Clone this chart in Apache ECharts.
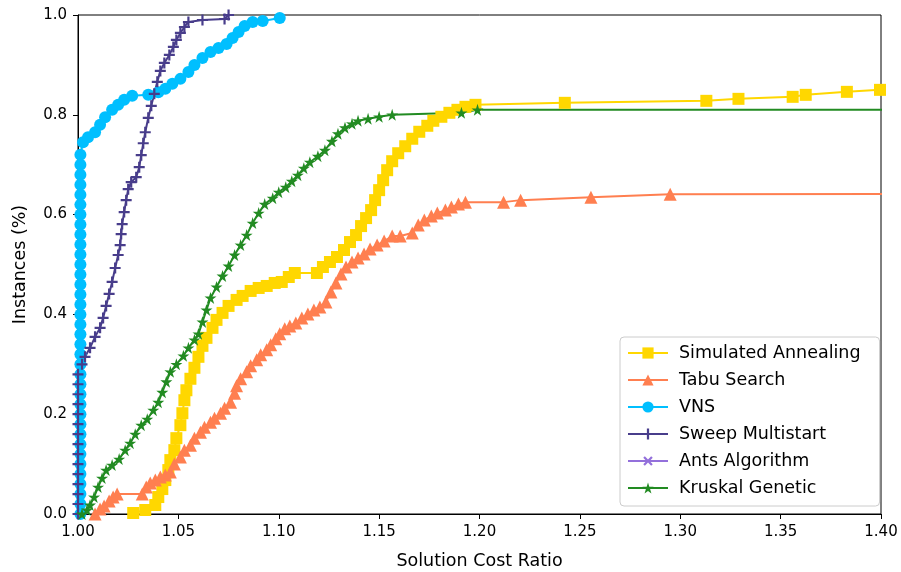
<!DOCTYPE html>
<html>
<head>
<meta charset="utf-8">
<script src="https://cdn.jsdelivr.net/npm/echarts@6/dist/echarts.min.js"></script>
<style>
  html, body { margin: 0; padding: 0; background: #fff; }
  #chart { width: 901px; height: 572px; }
</style>
</head>
<body>
<div id="chart"></div>
<script>
// tick labels
const xTicks = ['1.00', '1.05', '1.10', '1.15', '1.20', '1.25', '1.30', '1.35', '1.40']
const yTicks = ['0.0', '0.2', '0.4', '0.6', '0.8', '1.0']

// [cost ratio, share of instances]
const simulatedAnnealing = [
  [1.0275, 0.002], [1.0335, 0.008], [1.0385, 0.018], [1.040, 0.034], [1.042, 0.05],
  [1.0435, 0.068], [1.045, 0.088], [1.046, 0.108], [1.048, 0.128], [1.049, 0.152],
  [1.051, 0.178], [1.052, 0.202], [1.053, 0.228], [1.054, 0.248], [1.056, 0.271],
  [1.058, 0.293], [1.060, 0.315], [1.062, 0.337], [1.064, 0.353], [1.067, 0.373],
  [1.069, 0.389], [1.072, 0.403], [1.075, 0.417], [1.079, 0.429], [1.082, 0.437],
  [1.086, 0.447], [1.090, 0.453], [1.094, 0.457], [1.098, 0.463], [1.1015, 0.465],
  [1.105, 0.475], [1.108, 0.483], [1.119, 0.483], [1.122, 0.495], [1.1255, 0.505],
  [1.129, 0.515], [1.1325, 0.529], [1.1355, 0.545], [1.1385, 0.559], [1.141, 0.577],
  [1.1435, 0.593], [1.146, 0.609], [1.148, 0.629], [1.150, 0.649], [1.152, 0.669],
  [1.154, 0.689], [1.1565, 0.707], [1.1595, 0.723], [1.163, 0.737], [1.1665, 0.752],
  [1.170, 0.766], [1.174, 0.778], [1.177, 0.788], [1.181, 0.796], [1.185, 0.804],
  [1.189, 0.81], [1.193, 0.816], [1.198, 0.82], [1.2425, 0.824], [1.313, 0.828],
  [1.329, 0.832], [1.356, 0.836], [1.3625, 0.84], [1.383, 0.846], [1.3995, 0.85]
]

const tabuSearch = [
  [1.0085, 0], [1.011, 0.01], [1.013, 0.016], [1.0155, 0.026], [1.0175, 0.034],
  [1.0195, 0.04], [1.032, 0.04], [1.034, 0.054], [1.036, 0.062], [1.0385, 0.068],
  [1.041, 0.074], [1.0435, 0.078], [1.046, 0.084], [1.048, 0.10], [1.051, 0.114],
  [1.053, 0.128], [1.056, 0.138], [1.058, 0.152], [1.061, 0.164], [1.063, 0.174],
  [1.066, 0.184], [1.068, 0.192], [1.071, 0.202], [1.073, 0.212], [1.076, 0.224],
  [1.078, 0.242], [1.079, 0.257], [1.081, 0.271], [1.084, 0.285], [1.086, 0.297],
  [1.089, 0.309], [1.091, 0.319], [1.094, 0.329], [1.096, 0.339], [1.0985, 0.351],
  [1.1005, 0.361], [1.103, 0.371], [1.1055, 0.377], [1.1085, 0.383], [1.1115, 0.393],
  [1.1145, 0.401], [1.1175, 0.409], [1.1205, 0.415], [1.1235, 0.425], [1.126, 0.445],
  [1.1285, 0.463], [1.131, 0.481], [1.1335, 0.495], [1.1365, 0.505], [1.1395, 0.513],
  [1.1425, 0.521], [1.1455, 0.531], [1.149, 0.539], [1.1525, 0.547], [1.1565, 0.557],
  [1.1605, 0.557], [1.1665, 0.563], [1.1695, 0.579], [1.1725, 0.589], [1.176, 0.597],
  [1.179, 0.603], [1.183, 0.609], [1.186, 0.615], [1.1895, 0.621], [1.193, 0.625],
  [1.212, 0.625], [1.2205, 0.629], [1.2555, 0.635], [1.295, 0.641], [1.5, 0.642]
]

// VNS: run of instances solved to the best value, then the tail
const vnsAtOne = [
  0.00, 0.02, 0.04, 0.06, 0.08, 0.10, 0.12, 0.14, 0.16, 0.18, 0.20, 0.22, 0.24,
  0.26, 0.28, 0.30, 0.32, 0.34, 0.36, 0.38, 0.40, 0.42, 0.44, 0.46, 0.48, 0.50,
  0.52, 0.54, 0.56, 0.58, 0.60, 0.62, 0.64, 0.66, 0.68, 0.70, 0.72
]
const vnsTail = [
  [1.0025, 0.745], [1.005, 0.755], [1.0085, 0.765], [1.011, 0.78], [1.0135, 0.795],
  [1.017, 0.81], [1.020, 0.82], [1.023, 0.83], [1.027, 0.838], [1.035, 0.84],
  [1.040, 0.845], [1.0435, 0.852], [1.047, 0.862], [1.051, 0.872], [1.055, 0.886],
  [1.058, 0.90], [1.062, 0.914], [1.066, 0.926], [1.070, 0.934], [1.074, 0.942],
  [1.077, 0.954], [1.080, 0.966], [1.083, 0.978], [1.087, 0.986], [1.092, 0.988],
  [1.1005, 0.994]
]

const sweepAtOne = [0.00, 0.02, 0.04, 0.06, 0.08, 0.10, 0.12, 0.14, 0.16, 0.18, 0.20, 0.22, 0.24, 0.26, 0.28]
const sweepTail = [
  [1.002, 0.30], [1.0035, 0.315], [1.006, 0.333], [1.0085, 0.355], [1.011, 0.373],
  [1.0125, 0.393], [1.014, 0.417], [1.0155, 0.441], [1.017, 0.465], [1.0185, 0.493],
  [1.020, 0.519], [1.021, 0.539], [1.0215, 0.561], [1.022, 0.581], [1.023, 0.605],
  [1.024, 0.629], [1.025, 0.651], [1.0265, 0.665], [1.029, 0.675], [1.0305, 0.695],
  [1.0315, 0.719], [1.0325, 0.743], [1.0335, 0.765], [1.035, 0.794], [1.0365, 0.818],
  [1.038, 0.842], [1.0395, 0.866], [1.041, 0.888], [1.043, 0.904], [1.0455, 0.92],
  [1.0475, 0.936], [1.049, 0.95], [1.051, 0.964], [1.053, 0.976], [1.055, 0.986],
  [1.062, 0.99], [1.073, 0.992], [1.075, 1.0]
]

const antsAlgorithm = []

const kruskalGenetic = [
  [1.002, 0], [1.0045, 0.008], [1.006, 0.018], [1.008, 0.034], [1.010, 0.054],
  [1.012, 0.072], [1.014, 0.088], [1.017, 0.098], [1.0205, 0.11], [1.0235, 0.128],
  [1.026, 0.142], [1.0285, 0.16], [1.0315, 0.178], [1.0345, 0.19], [1.0375, 0.208],
  [1.040, 0.224], [1.042, 0.244], [1.044, 0.265], [1.046, 0.285], [1.049, 0.30],
  [1.0525, 0.317], [1.055, 0.333], [1.058, 0.349], [1.060, 0.361], [1.062, 0.385],
  [1.064, 0.409], [1.066, 0.433], [1.069, 0.455], [1.072, 0.477], [1.075, 0.497],
  [1.078, 0.519], [1.081, 0.539], [1.084, 0.559], [1.087, 0.583], [1.090, 0.603],
  [1.093, 0.621], [1.097, 0.633], [1.100, 0.645], [1.1035, 0.655], [1.1065, 0.667],
  [1.1095, 0.679], [1.1125, 0.693], [1.1155, 0.705], [1.1195, 0.717], [1.123, 0.729],
  [1.1265, 0.747], [1.1295, 0.762], [1.133, 0.774], [1.1365, 0.782], [1.1395, 0.788],
  [1.1445, 0.792], [1.150, 0.796], [1.1565, 0.80], [1.191, 0.804], [1.199, 0.81],
  [1.5, 0.81]
]

const vnsSeries = vnsAtOne.map(y => [1.0012, y]).concat(vnsTail)
const sweepSeries = sweepAtOne.map(y => [1.0, y]).concat(sweepTail)

const plusPath = 'path://M4,0H6V4H10V6H6V10H4V6H0V4H4Z'
const starPath = 'path://M5,0L6.117,3.463L9.755,3.455L6.807,5.587L7.939,9.045L5,6.9L2.061,9.045L3.193,5.587L0.245,3.455L3.883,3.463Z'

function line(name, data, color, symbol, size) {
  return {
    name: name,
    type: 'line',
    data: data,
    symbol: symbol,
    symbolSize: size,
    showAllSymbol: true,
    clip: true,
    itemStyle: { color: color },
    lineStyle: { color: color, width: 2 },
    emphasis: { disabled: true }
  }
}

const chart = echarts.init(document.getElementById('chart'))
chart.setOption({
  animation: false,
  backgroundColor: '#fff',
  textStyle: { fontFamily: 'DejaVu Sans' },
  grid: {
    left: 78,
    right: 20,
    top: 15,
    bottom: 58,
    outerBoundsMode: 'none',
    show: true,
    borderColor: '#000',
    borderWidth: 1
  },
  legend: {
    orient: 'vertical',
    left: 620,
    top: 337,
    padding: [7, 19, 9, 7],
    itemWidth: 40,
    itemHeight: 14,
    itemGap: 9,
    backgroundColor: 'rgba(255,255,255,0.8)',
    borderColor: '#ccc',
    borderWidth: 1,
    borderRadius: 4,
    textStyle: { fontSize: 17.5, lineHeight: 16, color: '#000', padding: [0, 0, 0, 6], fontFamily: 'DejaVu Sans' },
    data: ['Simulated Annealing', 'Tabu Search', 'VNS', 'Sweep Multistart', 'Ants Algorithm', 'Kruskal Genetic']
  },
  xAxis: {
    type: 'value',
    min: 1.0,
    max: 1.4,
    interval: 0.05,
    name: 'Solution Cost Ratio',
    nameLocation: 'middle',
    nameGap: 38,
    nameTextStyle: { fontSize: 17.5, color: '#000' },
    axisLine: { lineStyle: { color: '#000', width: 1 } },
    axisTick: { length: 5, lineStyle: { color: '#000' } },
    axisLabel: {
      fontSize: 15,
      color: '#000',
      margin: 11,
      formatter: v => xTicks[Math.round((v - 1.0) / 0.05)]
    },
    splitLine: { show: false }
  },
  yAxis: {
    type: 'value',
    min: 0,
    max: 1,
    interval: 0.2,
    name: 'Instances (%)',
    nameLocation: 'middle',
    nameGap: 49,
    nameTextStyle: { fontSize: 17.5, color: '#000' },
    axisLine: { show: true, lineStyle: { color: '#000', width: 1 } },
    axisTick: { show: true, length: 5, lineStyle: { color: '#000' } },
    axisLabel: {
      fontSize: 15,
      color: '#000',
      margin: 11,
      formatter: v => yTicks[Math.round(v / 0.2)]
    },
    splitLine: { show: false }
  },
  series: [
    line('Simulated Annealing', simulatedAnnealing, '#FFD700', 'rect', 12),
    line('Tabu Search', tabuSearch, '#FF7F50', 'triangle', 13),
    line('VNS', vnsSeries, '#00BFFF', 'circle', 12),
    line('Sweep Multistart', sweepSeries, '#483D8B', plusPath, 11),
    Object.assign(line('Ants Algorithm', antsAlgorithm, '#9370DB', plusPath, 11), { symbolRotate: 45 }),
    line('Kruskal Genetic', kruskalGenetic, '#228B22', starPath, 12)
  ]
})
</script>
</body>
</html>
